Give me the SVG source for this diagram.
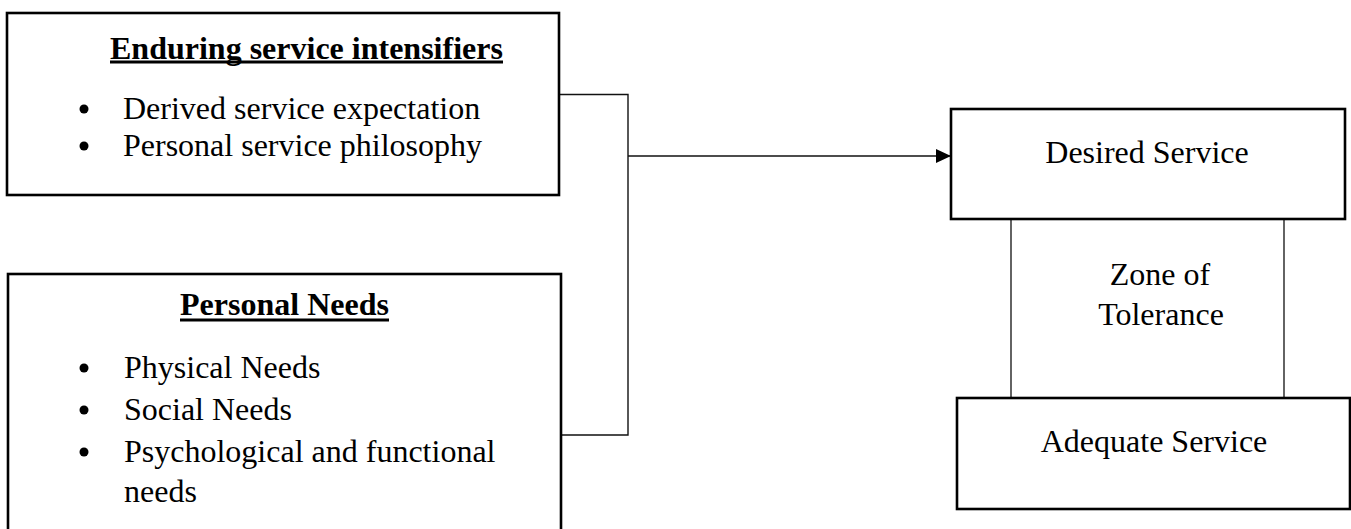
<svg xmlns="http://www.w3.org/2000/svg" width="1351" height="529" viewBox="0 0 1351 529">
  <defs>
    <style>
      .box { fill: #ffffff; stroke: #000000; stroke-width: 2.6; }
      .link { fill: none; stroke: #111111; stroke-width: 1.4; }
      .zone { fill: none; stroke: #222222; stroke-width: 1.4; }
      .txt { font-family: "Liberation Serif", "Times New Roman", serif; font-size: 32px; fill: #000000; }
      .title { font-weight: bold; }
      .rule { stroke: #000000; stroke-width: 3; }
      .dot { fill: #000000; }
    </style>
    <marker id="arrow" viewBox="0 0 15 14" refX="15" refY="7" markerWidth="15" markerHeight="14" markerUnits="userSpaceOnUse" orient="auto">
      <path d="M0,0 L15,7 L0,14 Z" fill="#000000"/>
    </marker>
  </defs>

  <rect width="1351" height="529" fill="#ffffff"/>

  <!-- connectors -->
  <g id="connectors">
    <polyline class="link" points="559,94.5 628,94.5 628,435 561,435"/>
    <line class="link" x1="628" y1="156" x2="951" y2="156" marker-end="url(#arrow)"/>
    <line class="zone" x1="1011" y1="219" x2="1011" y2="398"/>
    <line class="zone" x1="1284" y1="219" x2="1284" y2="408"/>
  </g>

  <!-- enduring service intensifiers -->
  <g id="enduring">
    <rect class="box" x="7" y="13" width="552" height="182"/>
    <text class="txt title" x="110" y="59">Enduring service intensifiers</text>
    <line class="rule" x1="110" y1="62" x2="503" y2="62"/>
    <circle class="dot" cx="84" cy="109" r="4.5"/>
    <text class="txt" x="123" y="119">Derived service expectation</text>
    <circle class="dot" cx="84" cy="146" r="4.5"/>
    <text class="txt" x="123" y="156">Personal service philosophy</text>
  </g>

  <!-- personal needs -->
  <g id="personal-needs">
    <rect class="box" x="8" y="274" width="553" height="280"/>
    <text class="txt title" x="284.5" y="315" text-anchor="middle">Personal Needs</text>
    <line class="rule" x1="180" y1="320" x2="389" y2="320"/>
    <circle class="dot" cx="84" cy="368" r="4.5"/>
    <text class="txt" x="124" y="378">Physical Needs</text>
    <circle class="dot" cx="84" cy="410" r="4.5"/>
    <text class="txt" x="124" y="420">Social Needs</text>
    <circle class="dot" cx="84" cy="452" r="4.5"/>
    <text class="txt" x="124" y="462">Psychological and functional</text>
    <text class="txt" x="124" y="502">needs</text>
  </g>

  <!-- desired service -->
  <g id="desired">
    <rect class="box" x="951" y="109" width="394" height="110"/>
    <text class="txt" x="1147" y="163" text-anchor="middle">Desired Service</text>
  </g>

  <!-- zone of tolerance -->
  <g id="zone">
    <text class="txt" x="1160" y="285" text-anchor="middle">Zone of</text>
    <text class="txt" x="1161" y="325" text-anchor="middle">Tolerance</text>
  </g>

  <!-- adequate service -->
  <g id="adequate">
    <rect class="box" x="957" y="398" width="393" height="111"/>
    <text class="txt" x="1154" y="452" text-anchor="middle">Adequate Service</text>
  </g>
</svg>
